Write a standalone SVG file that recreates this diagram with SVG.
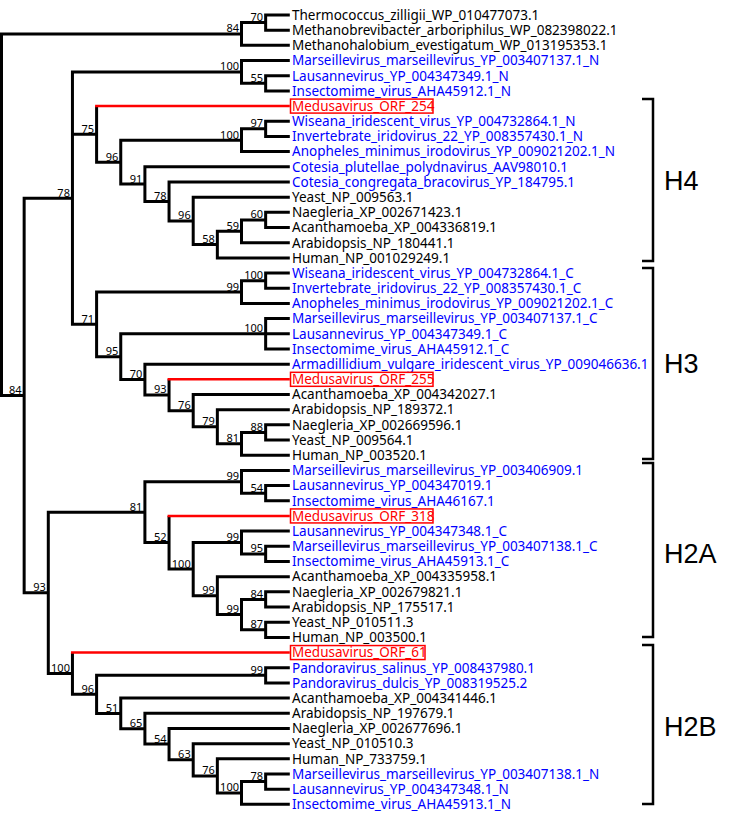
<svg xmlns="http://www.w3.org/2000/svg" width="731" height="833" viewBox="0 0 731 833">
<style>
.br{fill:none;stroke:#000;stroke-width:3;stroke-linejoin:miter;stroke-linecap:butt}
.rb{fill:none;stroke:#f00;stroke-width:2.5}
.lf{font-family:"Noto Sans","Open Sans",sans-serif;font-size:13.5px}
.k{fill:#000}.b{fill:#0000ff}.r{fill:#f00}
.bx{fill:none;stroke:#f00;stroke-width:1.5}
.sp{font-family:"Noto Sans","Open Sans",sans-serif;font-size:11px;text-anchor:end;fill:#000}
.bk{fill:none;stroke:#000;stroke-width:2.5}
.hl{font-family:"Liberation Sans",Arial,sans-serif;font-size:27px;fill:#000}
</style>
<rect width="731" height="833" fill="#fff"/>
<g id="connectors">
<path class="br" d="M241.5 33.98H1.5V395.48H24.15"/>
<path class="br" d="M265.65 22.59H241.5V45.36H289.8"/>
<path class="br" d="M289.8 15H265.65V30.18H289.8"/>
<path class="br" d="M72.45 198.15H24.15V592.81H48.3"/>
<path class="br" d="M241.5 71.93H72.45V324.36H96.6M72.45 134.13H96.6"/>
<path class="br" d="M289.8 60.54H241.5V83.31H265.65"/>
<path class="br" d="M289.8 75.72H265.65V90.9H289.8"/>
<path class="br" d="M96.6 106.08V162.18H120.75"/>
<path class="rb" d="M95.1 106.08H289.8"/>
<path class="br" d="M241.5 140.24H120.75V184.11H144.9"/>
<path class="br" d="M265.65 128.85H241.5V151.62H289.8"/>
<path class="br" d="M289.8 121.26H265.65V136.44H289.8"/>
<path class="br" d="M289.8 166.8H144.9V201.43H169.05"/>
<path class="br" d="M289.8 181.98H169.05V220.88H193.2"/>
<path class="br" d="M289.8 197.16H193.2V244.6H217.35"/>
<path class="br" d="M241.5 231.31H217.35V257.88H289.8"/>
<path class="br" d="M265.65 219.93H241.5V242.7H289.8"/>
<path class="br" d="M289.8 212.34H265.65V227.52H289.8"/>
<path class="br" d="M241.5 292.04H96.6V356.67H120.75"/>
<path class="br" d="M265.65 280.65H241.5V303.42H289.8"/>
<path class="br" d="M289.8 273.06H265.65V288.24H289.8"/>
<path class="br" d="M265.65 333.78H120.75V379.56H144.9"/>
<path class="br" d="M289.8 318.6H265.65V348.96H289.8M265.65 333.78H289.8"/>
<path class="br" d="M289.8 364.14H144.9V394.98H169.05"/>
<path class="br" d="M169.05 379.32V410.63H193.2"/>
<path class="rb" d="M167.55 379.32H289.8"/>
<path class="br" d="M289.8 394.5H193.2V426.76H217.35"/>
<path class="br" d="M289.8 409.68H217.35V443.84H241.5"/>
<path class="br" d="M265.65 432.45H241.5V455.22H289.8"/>
<path class="br" d="M289.8 424.86H265.65V440.04H289.8"/>
<path class="br" d="M144.9 512.15H48.3V673.47H72.45"/>
<path class="br" d="M241.5 481.79H144.9V542.51H169.05"/>
<path class="br" d="M289.8 470.4H241.5V493.17H265.65"/>
<path class="br" d="M289.8 485.58H265.65V500.76H289.8"/>
<path class="br" d="M169.05 515.94V569.08H193.2"/>
<path class="rb" d="M167.55 515.94H289.8"/>
<path class="br" d="M241.5 542.51H193.2V595.64H217.35"/>
<path class="br" d="M289.8 531.12H241.5V553.89H265.65"/>
<path class="br" d="M289.8 546.3H265.65V561.48H289.8"/>
<path class="br" d="M289.8 576.66H217.35V614.61H241.5"/>
<path class="br" d="M265.65 599.43H241.5V629.79H265.65"/>
<path class="br" d="M289.8 591.84H265.65V607.02H289.8"/>
<path class="br" d="M289.8 622.2H265.65V637.38H289.8"/>
<path class="br" d="M72.45 652.56V694.37H96.6"/>
<path class="rb" d="M70.95 652.56H289.8"/>
<path class="br" d="M265.65 675.33H96.6V713.4H120.75"/>
<path class="br" d="M289.8 667.74H265.65V682.92H289.8"/>
<path class="br" d="M289.8 698.1H120.75V728.7H144.9"/>
<path class="br" d="M289.8 713.28H144.9V744.12H169.05"/>
<path class="br" d="M289.8 728.46H169.05V759.77H193.2"/>
<path class="br" d="M289.8 743.64H193.2V775.9H217.35"/>
<path class="br" d="M289.8 758.82H217.35V792.98H241.5"/>
<path class="br" d="M265.65 781.59H241.5V804.36H289.8"/>
<path class="br" d="M289.8 774H265.65V789.18H289.8"/>
</g>
<g id="support">
<text class="sp" x="263.15" y="21.09">70</text>
<text class="sp" x="239" y="32.48">84</text>
<text class="sp" x="239" y="70.43">100</text>
<text class="sp" x="263.15" y="81.81">55</text>
<text class="sp" x="69.95" y="196.65">78</text>
<text class="sp" x="94.1" y="132.63">75</text>
<text class="sp" x="263.15" y="127.35">97</text>
<text class="sp" x="239" y="138.74">100</text>
<text class="sp" x="118.25" y="160.68">96</text>
<text class="sp" x="142.4" y="182.61">91</text>
<text class="sp" x="166.55" y="199.93">78</text>
<text class="sp" x="190.7" y="219.38">96</text>
<text class="sp" x="214.85" y="243.1">58</text>
<text class="sp" x="239" y="229.81">59</text>
<text class="sp" x="263.15" y="218.43">60</text>
<text class="sp" x="94.1" y="322.86">71</text>
<text class="sp" x="239" y="290.54">99</text>
<text class="sp" x="263.15" y="279.15">100</text>
<text class="sp" x="118.25" y="355.17">95</text>
<text class="sp" x="263.15" y="332.28">100</text>
<text class="sp" x="142.4" y="378.06">70</text>
<text class="sp" x="166.55" y="393.48">93</text>
<text class="sp" x="190.7" y="409.13">76</text>
<text class="sp" x="214.85" y="425.26">79</text>
<text class="sp" x="239" y="442.34">81</text>
<text class="sp" x="263.15" y="430.95">88</text>
<text class="sp" x="21.65" y="393.98">84</text>
<text class="sp" x="45.8" y="591.31">93</text>
<text class="sp" x="142.4" y="510.65">81</text>
<text class="sp" x="239" y="480.29">99</text>
<text class="sp" x="263.15" y="491.67">54</text>
<text class="sp" x="166.55" y="541.01">52</text>
<text class="sp" x="190.7" y="567.58">100</text>
<text class="sp" x="239" y="541.01">99</text>
<text class="sp" x="263.15" y="552.39">95</text>
<text class="sp" x="214.85" y="594.14">99</text>
<text class="sp" x="239" y="613.11">99</text>
<text class="sp" x="263.15" y="597.93">84</text>
<text class="sp" x="263.15" y="628.29">87</text>
<text class="sp" x="69.95" y="671.97">100</text>
<text class="sp" x="94.1" y="692.87">96</text>
<text class="sp" x="263.15" y="673.83">99</text>
<text class="sp" x="118.25" y="711.9">51</text>
<text class="sp" x="142.4" y="727.2">65</text>
<text class="sp" x="166.55" y="742.62">54</text>
<text class="sp" x="190.7" y="758.27">63</text>
<text class="sp" x="214.85" y="774.4">76</text>
<text class="sp" x="239" y="791.48">100</text>
<text class="sp" x="263.15" y="780.09">78</text>
</g>
<g id="leaf01"><text class="lf k" x="292" y="19.8">Thermococcus_zilligii_WP_010477073.1</text></g>
<g id="leaf02"><text class="lf k" x="292" y="34.98">Methanobrevibacter_arboriphilus_WP_082398022.1</text></g>
<g id="leaf03"><text class="lf k" x="292" y="50.16">Methanohalobium_evestigatum_WP_013195353.1</text></g>
<g id="leaf04"><text class="lf b" x="292" y="65.34">Marseillevirus_marseillevirus_YP_003407137.1_N</text></g>
<g id="leaf05"><text class="lf b" x="292" y="80.52">Lausannevirus_YP_004347349.1_N</text></g>
<g id="leaf06"><text class="lf b" x="292" y="95.7">Insectomime_virus_AHA45912.1_N</text></g>
<g id="leaf07"><rect class="bx" x="290.5" y="99.08" width="142.5" height="14"/><text class="lf r" x="292" y="110.88">Medusavirus_ORF_254</text></g>
<g id="leaf08"><text class="lf b" x="292" y="126.06">Wiseana_iridescent_virus_YP_004732864.1_N</text></g>
<g id="leaf09"><text class="lf b" x="292" y="141.24">Invertebrate_iridovirus_22_YP_008357430.1_N</text></g>
<g id="leaf10"><text class="lf b" x="292" y="156.42">Anopheles_minimus_irodovirus_YP_009021202.1_N</text></g>
<g id="leaf11"><text class="lf b" x="292" y="171.6">Cotesia_plutellae_polydnavirus_AAV98010.1</text></g>
<g id="leaf12"><text class="lf b" x="292" y="186.78">Cotesia_congregata_bracovirus_YP_184795.1</text></g>
<g id="leaf13"><text class="lf k" x="292" y="201.96">Yeast_NP_009563.1</text></g>
<g id="leaf14"><text class="lf k" x="292" y="217.14">Naegleria_XP_002671423.1</text></g>
<g id="leaf15"><text class="lf k" x="292" y="232.32">Acanthamoeba_XP_004336819.1</text></g>
<g id="leaf16"><text class="lf k" x="292" y="247.5">Arabidopsis_NP_180441.1</text></g>
<g id="leaf17"><text class="lf k" x="292" y="262.68">Human_NP_001029249.1</text></g>
<g id="leaf18"><text class="lf b" x="292" y="277.86">Wiseana_iridescent_virus_YP_004732864.1_C</text></g>
<g id="leaf19"><text class="lf b" x="292" y="293.04">Invertebrate_iridovirus_22_YP_008357430.1_C</text></g>
<g id="leaf20"><text class="lf b" x="292" y="308.22">Anopheles_minimus_irodovirus_YP_009021202.1_C</text></g>
<g id="leaf21"><text class="lf b" x="292" y="323.4">Marseillevirus_marseillevirus_YP_003407137.1_C</text></g>
<g id="leaf22"><text class="lf b" x="292" y="338.58">Lausannevirus_YP_004347349.1_C</text></g>
<g id="leaf23"><text class="lf b" x="292" y="353.76">Insectomime_virus_AHA45912.1_C</text></g>
<g id="leaf24"><text class="lf b" x="292" y="368.94">Armadillidium_vulgare_iridescent_virus_YP_009046636.1</text></g>
<g id="leaf25"><rect class="bx" x="290.5" y="372.32" width="142.5" height="14"/><text class="lf r" x="292" y="384.12">Medusavirus_ORF_255</text></g>
<g id="leaf26"><text class="lf k" x="292" y="399.3">Acanthamoeba_XP_004342027.1</text></g>
<g id="leaf27"><text class="lf k" x="292" y="414.48">Arabidopsis_NP_189372.1</text></g>
<g id="leaf28"><text class="lf k" x="292" y="429.66">Naegleria_XP_002669596.1</text></g>
<g id="leaf29"><text class="lf k" x="292" y="444.84">Yeast_NP_009564.1</text></g>
<g id="leaf30"><text class="lf k" x="292" y="460.02">Human_NP_003520.1</text></g>
<g id="leaf31"><text class="lf b" x="292" y="475.2">Marseillevirus_marseillevirus_YP_003406909.1</text></g>
<g id="leaf32"><text class="lf b" x="292" y="490.38">Lausannevirus_YP_004347019.1</text></g>
<g id="leaf33"><text class="lf b" x="292" y="505.56">Insectomime_virus_AHA46167.1</text></g>
<g id="leaf34"><rect class="bx" x="290.5" y="508.94" width="142.5" height="14"/><text class="lf r" x="292" y="520.74">Medusavirus_ORF_318</text></g>
<g id="leaf35"><text class="lf b" x="292" y="535.92">Lausannevirus_YP_004347348.1_C</text></g>
<g id="leaf36"><text class="lf b" x="292" y="551.1">Marseillevirus_marseillevirus_YP_003407138.1_C</text></g>
<g id="leaf37"><text class="lf b" x="292" y="566.28">Insectomime_virus_AHA45913.1_C</text></g>
<g id="leaf38"><text class="lf k" x="292" y="581.46">Acanthamoeba_XP_004335958.1</text></g>
<g id="leaf39"><text class="lf k" x="292" y="596.64">Naegleria_XP_002679821.1</text></g>
<g id="leaf40"><text class="lf k" x="292" y="611.82">Arabidopsis_NP_175517.1</text></g>
<g id="leaf41"><text class="lf k" x="292" y="627">Yeast_NP_010511.3</text></g>
<g id="leaf42"><text class="lf k" x="292" y="642.18">Human_NP_003500.1</text></g>
<g id="leaf43"><rect class="bx" x="290.5" y="645.56" width="134.5" height="14"/><text class="lf r" x="292" y="657.36">Medusavirus_ORF_61</text></g>
<g id="leaf44"><text class="lf b" x="292" y="672.54">Pandoravirus_salinus_YP_008437980.1</text></g>
<g id="leaf45"><text class="lf b" x="292" y="687.72">Pandoravirus_dulcis_YP_008319525.2</text></g>
<g id="leaf46"><text class="lf k" x="292" y="702.9">Acanthamoeba_XP_004341446.1</text></g>
<g id="leaf47"><text class="lf k" x="292" y="718.08">Arabidopsis_NP_197679.1</text></g>
<g id="leaf48"><text class="lf k" x="292" y="733.26">Naegleria_XP_002677696.1</text></g>
<g id="leaf49"><text class="lf k" x="292" y="748.44">Yeast_NP_010510.3</text></g>
<g id="leaf50"><text class="lf k" x="292" y="763.62">Human_NP_733759.1</text></g>
<g id="leaf51"><text class="lf b" x="292" y="778.8">Marseillevirus_marseillevirus_YP_003407138.1_N</text></g>
<g id="leaf52"><text class="lf b" x="292" y="793.98">Lausannevirus_YP_004347348.1_N</text></g>
<g id="leaf53"><text class="lf b" x="292" y="809.16">Insectomime_virus_AHA45913.1_N</text></g>
<g id="bracket-H4"><path class="bk" d="M642 99H653V261H642"/><text class="hl" x="664" y="190">H4</text></g>
<g id="bracket-H3"><path class="bk" d="M642 268H653V459H642"/><text class="hl" x="664" y="373">H3</text></g>
<g id="bracket-H2A"><path class="bk" d="M642 463H653V637H642"/><text class="hl" x="664" y="563">H2A</text></g>
<g id="bracket-H2B"><path class="bk" d="M642 645H653V804H642"/><text class="hl" x="664" y="736">H2B</text></g>
</svg>
